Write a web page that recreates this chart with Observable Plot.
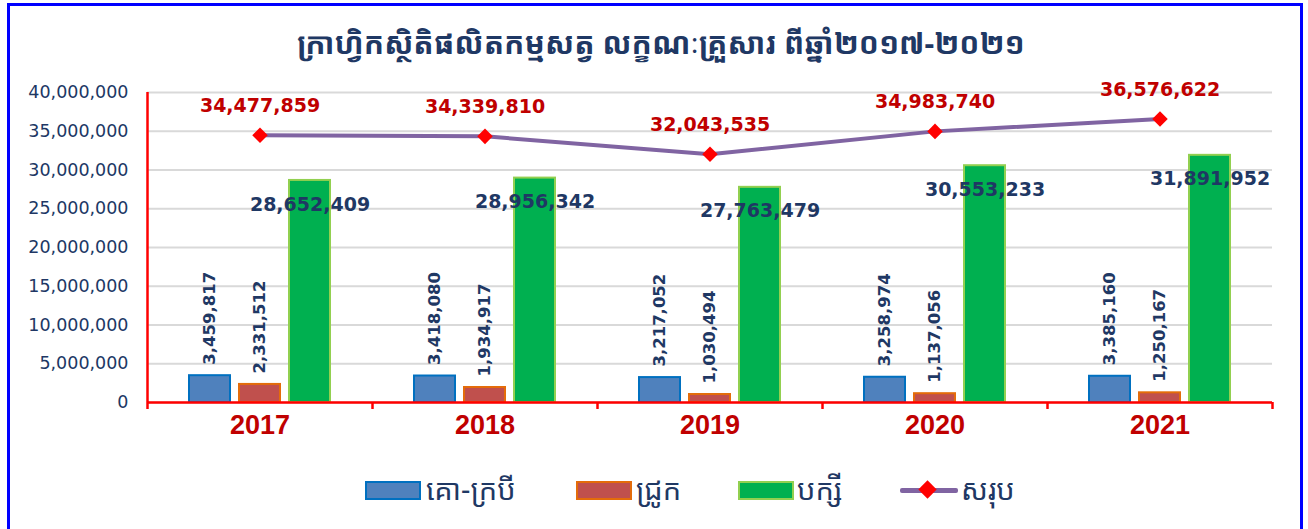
<!DOCTYPE html>
<html>
<head>
<meta charset="utf-8">
<script src="https://cdn.jsdelivr.net/npm/d3@7"></script>
<script src="https://cdn.jsdelivr.net/npm/@observablehq/plot@0.6"></script>
<style>
  html, body { margin: 0; padding: 0; background: #fff; width: 1308px; height: 529px; overflow: hidden; }
  #frame { position: absolute; left: 7px; top: 3px; width: 1290px; height: 600px; border: 3px solid #0000FF; border-bottom: none; }
  #title { position: absolute; left: 0; top: 22px; width: 1322px; text-align: center; font-family: "Noto Sans Khmer", "Khmer OS", "Noto Sans", sans-serif; font-size: 30px; font-weight: bold; color: #1F3864; line-height: 42px; }
  #chart { position: absolute; left: 0; top: 60px; }
  #chart svg { overflow: visible; }
  .sw { position: absolute; top: 481px; width: 56px; height: 19px; box-sizing: border-box; border-width: 2px; border-style: solid; }
  .lab { position: absolute; top: 471px; font-family: "Noto Sans Khmer", "Khmer OS", "Noto Sans", sans-serif; font-size: 29px; color: #1F3864; line-height: 36px; }
  #lline { position: absolute; left: 900px; top: 488px; width: 58px; height: 5px; background: #8064A2; border-radius: 2px; }
  #ldia { position: absolute; left: 921px; top: 483px; width: 13px; height: 13px; background: #FF0000; transform: rotate(45deg); }
</style>
</head>
<body>
<div id="frame"></div>
<div id="title"></div>
<div id="chart"></div>
<div id="legend"></div>
<script>
const title = "ក្រាហ្វិកស្ថិតិផលិតកម្មសត្វ លក្ខណៈគ្រួសារ ពីឆ្នាំ២០១៧-២០២១";
const years = ["2017", "2018", "2019", "2020", "2021"];
const cattle = [3459817, 3418080, 3217052, 3258974, 3385160];
const pigs = [2331512, 1934917, 1030494, 1137056, 1250167];
const poultry = [28652409, 28956342, 27763479, 30553233, 31891952];
const totals = [34477859, 34339810, 32043535, 34983740, 36576622];
const yTicks = [0, 5000000, 10000000, 15000000, 20000000, 25000000, 30000000, 35000000, 40000000];
const seriesNames = ["គោ-ក្របី", "ជ្រូក", "បក្សី", "សរុប"];

const rows = years.map((year, i) => ({year, cattle: cattle[i], pigs: pigs[i], poultry: poultry[i], total: totals[i]}));
const fmt = d3.format(",");
const navy = "#1F3864";
const dark = "#C00000";
const red = "#FF0000";
const tickLen = 900000;

document.getElementById("title").textContent = title;

const chart = Plot.plot({
  width: 1308,
  height: 400,
  marginLeft: 147,
  marginRight: 36,
  marginTop: 32,
  marginBottom: 58,
  style: {fontFamily: "DejaVu Sans", color: "#203764", background: "transparent", overflow: "visible"},
  x: {type: "band", domain: years, padding: 0, axis: null},
  y: {domain: [0, 40000000], axis: null},
  marks: [
    Plot.gridY(yTicks, {stroke: "#D9D9D9", strokeOpacity: 1, strokeWidth: 2}),
    Plot.axisY(yTicks, {tickSize: 0, tickPadding: 19, tickFormat: fmt, fontSize: 17.5}),
    Plot.barY(rows, {x: "year", y: "cattle", fill: "#4F81BD", stroke: "#0070C0", strokeWidth: 2, insetLeft: 42, insetRight: 142}),
    Plot.barY(rows, {x: "year", y: "pigs", fill: "#C0504D", stroke: "#E46C0A", strokeWidth: 2, insetLeft: 92, insetRight: 92}),
    Plot.barY(rows, {x: "year", y: "poultry", fill: "#00B050", stroke: "#92D050", strokeWidth: 2, insetLeft: 142, insetRight: 42}),
    Plot.ruleY([0], {stroke: red, strokeWidth: 2.5}),
    Plot.ruleX([years[0]], {y1: -tickLen, y2: 40000000, dx: -112.5, stroke: red, strokeWidth: 2.5}),
    Plot.ruleX(years, {y1: -tickLen, y2: 0, dx: 112.5, stroke: red, strokeWidth: 2.5}),
    Plot.text(rows, {x: "year", y: "cattle", text: d => fmt(d.cattle), rotate: -90, textAnchor: "start", lineAnchor: "middle", dx: -50, dy: -11, fill: navy, fontWeight: "bold", fontSize: 16.5}),
    Plot.text(rows, {x: "year", y: "pigs", text: d => fmt(d.pigs), rotate: -90, textAnchor: "start", lineAnchor: "middle", dx: 0, dy: -11, fill: navy, fontWeight: "bold", fontSize: 16.5}),
    Plot.text(rows, {x: "year", y: "poultry", text: d => fmt(d.poultry), dx: 50, dy: 24, fill: navy, fontWeight: "bold", fontSize: 19}),
    Plot.lineY(rows, {x: "year", y: "total", stroke: "#8064A2", strokeWidth: 4}),
    Plot.dot(rows, {x: "year", y: "total", symbol: "diamond2", r: 7, fill: red, stroke: "none"}),
    Plot.text(rows, {x: "year", y: "total", text: d => fmt(d.total), dy: -29, fill: dark, fontWeight: "bold", fontSize: 19}),
    Plot.text(rows, {x: "year", text: "year", frameAnchor: "bottom", dy: 31, fill: dark, fontWeight: "bold", fontSize: 27, fontFamily: "Liberation Sans"})
  ]
});
document.getElementById("chart").appendChild(chart);

const legend = document.getElementById("legend");
const legItems = [
  {sw: "#4F81BD", bd: "#0070C0", left: 365, labLeft: 426},
  {sw: "#C0504D", bd: "#E46C0A", left: 576, labLeft: 636},
  {sw: "#00B050", bd: "#92D050", left: 738, labLeft: 797},
  {line: true, labLeft: 961}
];
legItems.forEach((it, i) => {
  if (!it.line) {
    const s = document.createElement("div");
    s.className = "sw";
    s.style.left = it.left + "px";
    s.style.background = it.sw;
    s.style.borderColor = it.bd;
    legend.appendChild(s);
  } else {
    const l = document.createElement("div"); l.id = "lline"; legend.appendChild(l);
    const dd = document.createElement("div"); dd.id = "ldia"; legend.appendChild(dd);
  }
  const t = document.createElement("div");
  t.className = "lab";
  t.style.left = it.labLeft + "px";
  t.textContent = seriesNames[i];
  legend.appendChild(t);
});
</script>
</body>
</html>
